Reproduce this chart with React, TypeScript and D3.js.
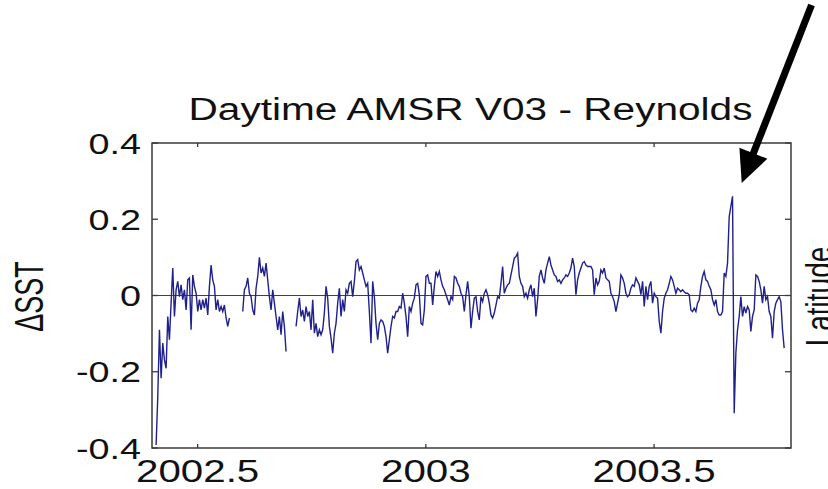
import React from 'react';
import * as d3 from 'd3';

const title = 'Daytime AMSR V03 - Reynolds';
const yLabel = 'ΔSST';
const rightLabel = 'Latitude';
const xTicks = [2002.5, 2003, 2003.5];
const xTickLabels = ['2002.5', '2003', '2003.5'];
const yTicks = [-0.4, -0.2, 0, 0.2, 0.4];
const yTickLabels = ['-0.4', '-0.2', '0', '0.2', '0.4'];
const xDomain = [2002.4, 2003.8];
const yDomain = [-0.4, 0.4];

// sampled series: first sample year and sample spacing (years); null = missing data
const startYear = 2002.409;
const stepYears = 0.00365;
const dsst: (number | null)[] = [
  // mid 2002
  -0.392, -0.265, -0.090, -0.217, -0.125, -0.169, -0.191, -0.055, -0.116, -0.020,
  0.072, -0.055, 0.015, 0.037, -0.003, 0.028, -0.011, 0.015, -0.038, 0.041,
  0.046, -0.090, 0.054, 0.024, 0.006, -0.042, -0.011, -0.038, -0.011, -0.033,
  -0.007, -0.051, 0.024, 0.080, 0.041, 0.024, -0.038, -0.011, -0.042, -0.029,
  -0.042, -0.025, -0.059, -0.081, -0.059,
  null, null, null, null, null, null, null,
  -0.042, 0.015, 0.024, 0.046, 0.006, -0.003, -0.038, -0.051, 0.019, 0.050,
  0.100, 0.059, 0.072, 0.050, 0.085, 0.041, -0.003, -0.038, 0.015, -0.020,
  -0.055, -0.090, -0.055, -0.103, -0.042, -0.081, -0.147,
  null, null, null, null, null,
  -0.081, -0.042,
  // late 2002
  -0.007, -0.055, -0.038, -0.068, -0.029, -0.055, -0.042, -0.090, -0.011, -0.099,
  -0.073, -0.108, -0.090, -0.103, -0.090, -0.046, 0.024, -0.007, -0.081, -0.112,
  -0.151, -0.099, -0.073, -0.020, 0.019, -0.055, -0.011, -0.042, 0.015, 0.006,
  0.032, 0.037, -0.003, 0.037, 0.089, 0.094, 0.067, 0.076, 0.059, 0.041,
  0.024, 0.032, -0.042, -0.125, 0.037, -0.003, -0.073, -0.116, -0.073, -0.064,
  -0.068, -0.081, -0.108, -0.151, -0.116, -0.081, -0.055, -0.059, -0.042, -0.042,
  -0.029, -0.033, 0.006, -0.020, -0.055, -0.108, -0.029, -0.042, -0.020, -0.007,
  0.028, 0.032, 0.002, -0.073, -0.077, -0.038, 0.050, 0.054, 0.032, 0.032,
  -0.025, 0.024, 0.063, 0.050, 0.063, 0.041, 0.024, 0.015, 0.002, -0.011,
  -0.025, -0.003, -0.011, 0.050, 0.046, 0.032,
  // early 2003
  0.024, 0.006, -0.003, -0.042, 0.002, 0.037, -0.003, -0.086, -0.042, -0.007,
  -0.003, -0.042, -0.064, -0.003, -0.016, 0.006, 0.015, 0.002, -0.020, -0.051,
  -0.059, -0.046, -0.025, -0.003, -0.007, 0.032, 0.076, 0.006, 0.019, 0.028,
  0.032, 0.054, 0.076, 0.098, 0.102, 0.111, 0.050, 0.032, 0.024, -0.003,
  0.006, -0.007, 0.015, 0.028, -0.003, 0.019, -0.055, -0.011, 0.050, 0.067,
  0.046, 0.032, 0.067, 0.085, 0.102, 0.080, 0.067, 0.054, 0.050, 0.037,
  0.041, 0.032, 0.041, 0.046, 0.054, 0.050, 0.059, 0.072, 0.098, 0.076,
  0.002, 0.041, 0.059, 0.072, 0.085, 0.089, 0.080, 0.076, 0.076, 0.076,
  0.067, 0.002, 0.046, 0.028, 0.037, 0.067, 0.059, 0.072, 0.046, 0.041,
  0.037, 0.006, -0.003, -0.016, -0.042, -0.020,
  // mid/late 2003
  0.002, 0.054, 0.046, 0.032, 0.006, -0.003, 0.002, 0.019, 0.028, 0.024,
  0.046, 0.037, 0.028, 0.002, 0.037, -0.029, 0.024, -0.011, 0.024, 0.037,
  -0.020, 0.006, -0.003, -0.007, -0.068, -0.099, -0.042, -0.007, 0.006, 0.015,
  0.032, 0.050, 0.041, 0.024, 0.006, 0.019, 0.015, 0.010, 0.015, 0.010,
  0.006, 0.006, 0.002, -0.038, -0.042, -0.033, -0.042, -0.020, -0.011, 0.024,
  0.050, 0.063, 0.041, 0.037, 0.024, 0.015, -0.011, -0.025, -0.011, -0.042,
  -0.051, -0.051, -0.042, 0.059, 0.050, 0.085, 0.207, 0.234, 0.260, -0.309,
  -0.151, -0.090, -0.055, -0.003, -0.055, -0.029, -0.046, -0.029, -0.038, -0.094,
  -0.055, -0.038, 0.054, 0.050, 0.037, 0.015, -0.020, 0.024, -0.011, -0.003,
  -0.042, -0.055, -0.112, -0.042, -0.020, -0.011, -0.003, -0.016, -0.090, -0.138,
];

// annotation arrow (data coordinates)
const arrowTail: [number, number] = [2003.845, 0.762];
const arrowTip: [number, number] = [2003.692, 0.295];

const W = 828;
const H = 489;
const plot = { left: 152, right: 791, top: 143, bottom: 448 };
const FONT = '"Liberation Sans", Arial, Helvetica, sans-serif';

export default function App() {
  const x = d3.scaleLinear().domain(xDomain).range([plot.left, plot.right]);
  const y = d3.scaleLinear().domain(yDomain).range([plot.bottom, plot.top]);

  const pts = dsst.map((v, i) => ({ t: startYear + i * stepYears, v }));
  const line = d3
    .line<{ t: number; v: number | null }>()
    .defined((d) => d.v !== null)
    .x((d) => x(d.t))
    .y((d) => y(d.v as number));
  const pathD = line(pts) || '';

  // arrow geometry
  const sx = x(arrowTail[0]);
  const sy = y(arrowTail[1]);
  const tx = x(arrowTip[0]);
  const ty = y(arrowTip[1]);
  const dx = tx - sx;
  const dy = ty - sy;
  const len = Math.hypot(dx, dy);
  const ux = dx / len;
  const uy = dy / len;
  const headL = 32;
  const headW = 15;
  const bx = tx - headL * ux;
  const by = ty - headL * uy;
  const nx = -uy;
  const ny = ux;
  const headPts = `${tx},${ty} ${bx + headW * nx},${by + headW * ny} ${bx - headW * nx},${by - headW * ny}`;

  const axisColor = '#3a3a3a';
  const xTickLen = 4;
  const yTickLen = 6;

  return (
    <svg
      width={W}
      height={H}
      viewBox={`0 0 ${W} ${H}`}
      style={{ position: 'absolute', left: 0, top: 0, background: '#fff' }}
    >
      <rect x={0} y={0} width={W} height={H} fill="#fff" />
      <defs>
        <clipPath id="plotClip">
          <rect x={plot.left} y={plot.top} width={plot.right - plot.left} height={plot.bottom - plot.top} />
        </clipPath>
      </defs>

      {/* zero reference line */}
      <line x1={plot.left} x2={plot.right} y1={y(0)} y2={y(0)} stroke="#34349a" strokeWidth={1.2} />

      {/* data */}
      <path d={pathD} fill="none" stroke="#20208c" strokeWidth={1.4} strokeLinejoin="miter" clipPath="url(#plotClip)" />

      {/* box */}
      <rect
        x={plot.left}
        y={plot.top}
        width={plot.right - plot.left}
        height={plot.bottom - plot.top}
        fill="none"
        stroke={axisColor}
        strokeWidth={1.5}
      />

      {/* ticks */}
      {xTicks.map((t) => (
        <g key={`xt${t}`}>
          <line x1={x(t)} x2={x(t)} y1={plot.bottom} y2={plot.bottom - xTickLen} stroke={axisColor} strokeWidth={1.3} />
          <line x1={x(t)} x2={x(t)} y1={plot.top} y2={plot.top + xTickLen} stroke={axisColor} strokeWidth={1.3} />
        </g>
      ))}
      {yTicks.map((t) => (
        <g key={`yt${t}`}>
          <line x1={plot.left} x2={plot.left + yTickLen} y1={y(t)} y2={y(t)} stroke={axisColor} strokeWidth={1.3} />
          <line x1={plot.right} x2={plot.right - yTickLen} y1={y(t)} y2={y(t)} stroke={axisColor} strokeWidth={1.3} />
        </g>
      ))}

      {/* tick labels */}
      {yTicks.map((t, i) => (
        <text
          key={`yl${t}`}
          transform={`translate(${plot.left - 11},${y(t) + 10.5}) scale(1.26,1)`}
          textAnchor="end"
          fontFamily={FONT}
          fontSize={30}
          fill="#111"
        >
          {yTickLabels[i]}
        </text>
      ))}
      {xTicks.map((t, i) => (
        <text
          key={`xl${t}`}
          transform={`translate(${x(t)},${482}) scale(1.3,1)`}
          textAnchor="middle"
          fontFamily={FONT}
          fontSize={31}
          fill="#111"
        >
          {xTickLabels[i]}
        </text>
      ))}

      {/* title */}
      <text
        transform={`translate(${(plot.left + plot.right) / 2 - 1},120) scale(1.31,1)`}
        textAnchor="middle"
        fontFamily={FONT}
        fontSize={31}
        fill="#111"
      >
        {title}
      </text>

      {/* y label */}
      <text
        transform={`translate(43,${(plot.top + plot.bottom) / 2 + 1}) scale(1.5,1) rotate(-90)`}
        textAnchor="middle"
        fontFamily={FONT}
        fontSize={27}
        fill="#111"
      >
        {yLabel}
      </text>

      {/* partial right label */}
      <text
        transform={`translate(832,${(plot.top + plot.bottom) / 2 + 1}) scale(1.3,1) rotate(-90)`}
        textAnchor="middle"
        fontFamily={FONT}
        fontSize={28}
        fill="#111"
      >
        {rightLabel}
      </text>

      {/* arrow */}
      <line x1={sx} y1={sy} x2={bx + 2 * ux} y2={by + 2 * uy} stroke="#000" strokeWidth={7} />
      <polygon points={headPts} fill="#000" />
    </svg>
  );
}
